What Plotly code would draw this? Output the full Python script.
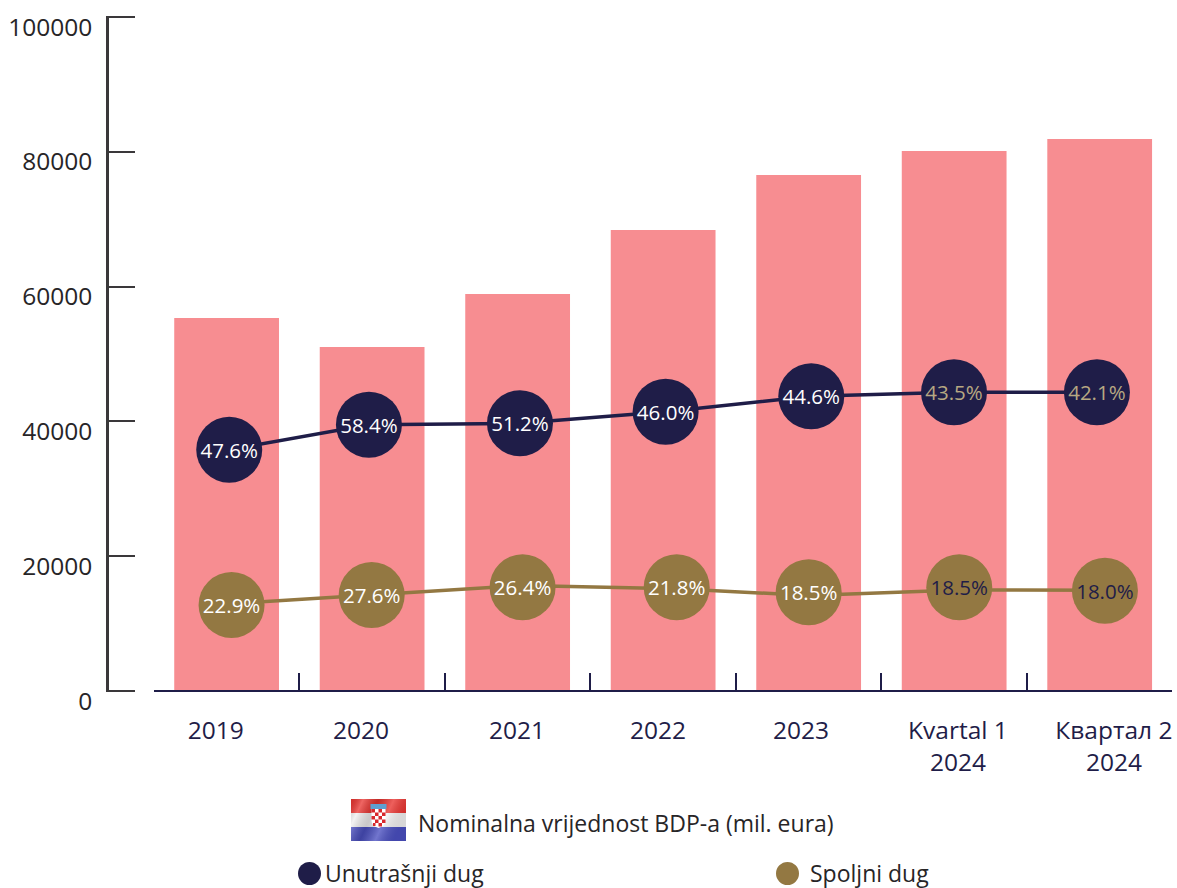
import base64
import plotly.graph_objects as go

W, H = 1177, 888

# ---- data ----
periods = [0, 1, 2, 3, 4, 5, 6]
gdp = [55340, 51040, 58900, 68400, 76560, 80120, 81900]

internal_x = [0.018, 0.978, 2.016, 3.017, 4.018, 4.999, 5.981]
internal_y = [35800, 39510, 39720, 41440, 43720, 44320, 44320]
internal_txt = ["47.6%", "58.4%", "51.2%", "46.0%", "44.6%", "43.5%", "42.1%"]
internal_txt_col = ["#ffffff"] * 5 + ["#b7a882"] * 2

external_x = [0.034, 0.997, 2.034, 3.093, 4.0, 5.035, 6.036]
external_y = [12760, 14240, 15390, 15390, 14640, 15390, 14880]
external_line_y = [12980, 14240, 15650, 15180, 14170, 14990, 14940]
external_txt = ["22.9%", "27.6%", "26.4%", "21.8%", "18.5%", "18.5%", "18.0%"]
external_txt_col = ["#ffffff"] * 5 + ["#1f1d48"] * 2

label_pos = [-0.074, 0.923, 1.995, 2.964, 3.947, 5.026, 6.098]
label_txt = ["2019", "2020", "2021", "2022", "2023", "Kvartal 1<br>2024", "Квартал 2<br>2024"]
sep_pos = [0.5, 1.5, 2.5, 3.5, 4.5, 5.5]
y_ticks = [0, 20000, 40000, 60000, 80000, 100000]

# ---- style ----
FONT = "Open Sans"
NAVY = "#1f1d48"
BROWN = "#937842"
PINK = "#f78d91"
GREY = "#3a383a"
TEXT_DY = -400  # pct labels sit a little below the marker centre

flag_svg = """<svg xmlns='http://www.w3.org/2000/svg' width='110' height='84' viewBox='0 0 110 84'>
<defs><linearGradient id='s' x1='0' y1='0' x2='1' y2='0.35'>
<stop offset='0' stop-color='#000' stop-opacity='.10'/><stop offset='.2' stop-color='#fff' stop-opacity='.25'/>
<stop offset='.45' stop-color='#000' stop-opacity='.16'/><stop offset='.7' stop-color='#fff' stop-opacity='.22'/>
<stop offset='1' stop-color='#000' stop-opacity='.10'/></linearGradient></defs>
<rect width='110' height='28' fill='#e9332f'/><rect y='28' width='110' height='28' fill='#f0efef'/>
<rect y='56' width='110' height='28' fill='#4a4fc0'/><rect width='110' height='84' fill='url(#s)'/>
<rect x='39' y='10' width='32' height='10' fill='#5f9fd0'/>
<path d='M41 20h28v24q0 10-14 14q-14-4-14-14z' fill='#fff'/>
<g fill='#d8282c'><rect x='41' y='20' width='7' height='7'/><rect x='55' y='20' width='7' height='7'/>
<rect x='48' y='27' width='7' height='7'/><rect x='62' y='27' width='7' height='7'/>
<rect x='41' y='34' width='7' height='7'/><rect x='55' y='34' width='7' height='7'/>
<rect x='48' y='41' width='7' height='7'/><rect x='62' y='41' width='7' height='7'/>
<rect x='44' y='48' width='5' height='6'/><rect x='55' y='48' width='7' height='7'/></g></svg>"""
flag_src = "data:image/svg+xml;base64," + base64.b64encode(flag_svg.encode()).decode()

fig = go.Figure()
fig.add_trace(go.Bar(x=periods, y=gdp, width=0.72, marker=dict(color=PINK, line=dict(width=0)), showlegend=False))
fig.add_trace(go.Scatter(x=internal_x, y=internal_y, mode="lines", line=dict(color=NAVY, width=3.5), showlegend=False))
fig.add_trace(go.Scatter(x=external_x, y=external_line_y, mode="lines", line=dict(color=BROWN, width=3.5), showlegend=False))
fig.add_trace(go.Scatter(x=internal_x, y=internal_y, mode="markers",
                         marker=dict(size=66, color=NAVY, line=dict(width=0)), showlegend=False))
fig.add_trace(go.Scatter(x=external_x, y=external_y, mode="markers",
                         marker=dict(size=66, color=BROWN, line=dict(width=0)), showlegend=False))
fig.add_trace(go.Scatter(x=internal_x, y=[v + TEXT_DY for v in internal_y], mode="text", text=internal_txt,
                         textposition="middle center",
                         textfont=dict(family=FONT, size=20.5, color=internal_txt_col), showlegend=False))
fig.add_trace(go.Scatter(x=external_x, y=[v + TEXT_DY for v in external_y], mode="text", text=external_txt,
                         textposition="middle center",
                         textfont=dict(family=FONT, size=20.5, color=external_txt_col), showlegend=False))


def px(x):
    return x / W


def py(y):
    return 1 - y / H


shapes = []
for cx, col in [(309.5, NAVY), (787.5, BROWN)]:
    shapes.append(dict(type="circle", xref="paper", yref="paper", layer="above",
                       x0=px(cx - 11.5), x1=px(cx + 11.5), y0=py(873.5 + 11.5), y1=py(873.5 - 11.5),
                       fillcolor=col, line=dict(width=0)))

annotations = [
    dict(text=t, x=px(x), y=py(y), xref="paper", yref="paper", xanchor="left", yanchor="middle",
         showarrow=False, font=dict(family=FONT, size=23, color="#272527"))
    for t, x, y in [("Nominalna vrijednost BDP-a (mil. eura)", 416, 823),
                    ("Unutrašnji dug", 323, 873),
                    ("Spoljni dug", 808, 873)]
]

fig.update_layout(
    width=W, height=H, autosize=False,
    margin=dict(l=0, r=0, t=0, b=0, autoexpand=False),
    paper_bgcolor="white", plot_bgcolor="white",
    font=dict(family=FONT),
    hovermode=False,
    shapes=shapes, annotations=annotations,
    images=[dict(source=flag_src, xref="paper", yref="paper", x=px(351), y=py(799),
                 sizex=55 / W, sizey=42 / H, sizing="stretch", xanchor="left", yanchor="top", layer="above")],
    xaxis=dict(domain=[px(154), px(1172)], range=[-0.499, 6.497], anchor="free", position=py(691),
               tickmode="array", tickvals=label_pos, ticktext=label_txt, ticks="",
               showgrid=False, zeroline=False,
               showline=True, linecolor=NAVY, linewidth=2, ticklabelstandoff=18,
               tickfont=dict(family=FONT, size=24.5, color=NAVY),
               minor=dict(tickmode="array", tickvals=sep_pos, ticks="inside", ticklen=17,
                          tickwidth=2, tickcolor=NAVY, showgrid=False)),
    yaxis=dict(domain=[py(692.35), py(15.65)], range=[-200, 100200], anchor="free", position=px(107),
               tickmode="array", tickvals=y_ticks, ticktext=[str(v) for v in y_ticks],
               ticks="inside", ticklen=26, tickwidth=1.5, tickcolor=GREY,
               showline=True, linecolor=GREY, linewidth=2.5, showgrid=False, zeroline=False,
               ticklabelshift=10, ticklabelstandoff=9,
               tickfont=dict(family=FONT, size=24.5, color="#272527")),
)

fig.write_html("out.html", config=dict(displayModeBar=False),
               post_script="document.body.style.margin='0';")
